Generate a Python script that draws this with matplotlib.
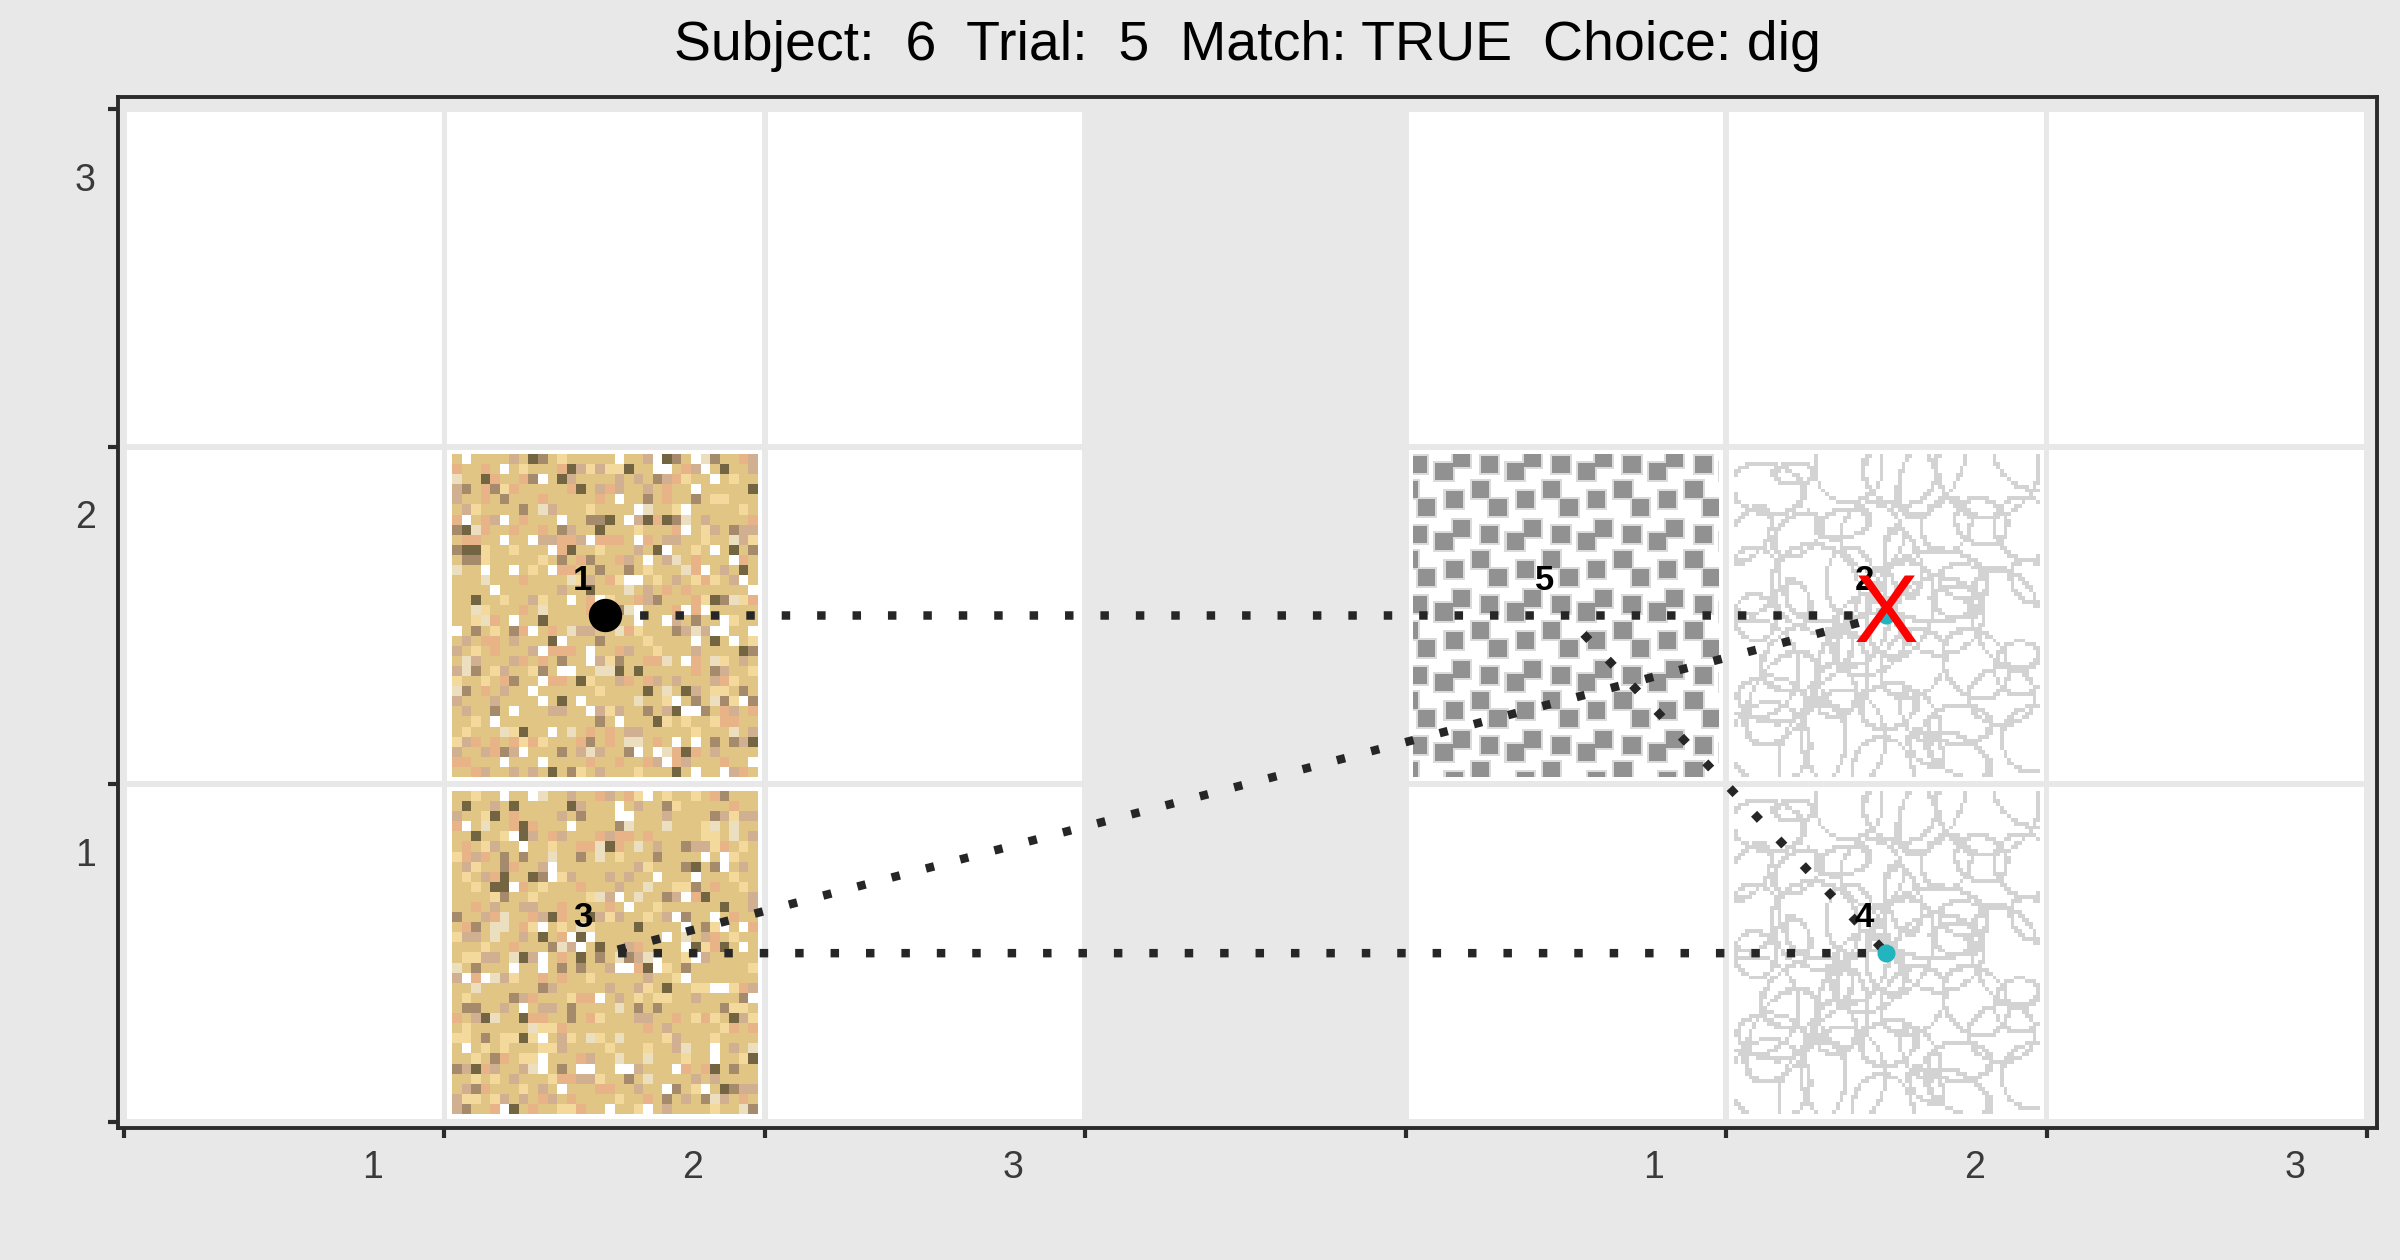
import numpy as np
import matplotlib.pyplot as plt
from matplotlib.patches import Rectangle

plt.rcParams['font.family'] = ['Liberation Sans', 'DejaVu Sans']

# ---- chart data ----
title = "Subject:  6  Trial:  5  Match: TRUE  Choice: dig"
tile_cols = [0, 1, 2, 4, 5, 6]          # left edge of each grid column
tile_rows = [0, 1, 2]                   # bottom edge of each grid row
x_ticks = [0, 1, 2, 3, 4, 5, 6, 7]
y_ticks = [0, 1, 2, 3]
x_label_pos = [0.775, 1.775, 2.775, 4.775, 5.775, 6.775]
x_labels = ["1", "2", "3", "1", "2", "3"]
y_label_pos = [0.8, 1.8, 2.8]
y_labels = ["1", "2", "3"]

# textured cells: (left, bottom, texture)
tex_x = [1, 1, 4, 5, 5]
tex_y = [1, 0, 1, 1, 0]
tex_kind = ["sand", "sand", "checker", "circles", "circles"]

# visiting path
path_x = [1.5, 5.5, 1.5, 5.5, 4.5]
path_y = [1.5, 1.5, 0.5, 0.5, 1.5]
path_lab = ["1", "2", "3", "4", "5"]
cyan_steps = [1, 3]
choice_step = 1

BG = "#e8e8e8"


# ---- texture helpers (decorative fills only) ----
def sand_texture(seed, n=32):
    cols = ["#e0c584", "#f3da9c", "#ebdfc0", "#d1b092", "#e8b386",
            "#a68a6c", "#736542", "#ffffff"]
    prob = [0.52, 0.09, 0.05, 0.09, 0.09, 0.05, 0.035, 0.075]
    prob = np.array(prob) / sum(prob)
    rgb = np.array([[int(c[i:i + 2], 16) / 255 for i in (1, 3, 5)] for c in cols])
    rng = np.random.default_rng(seed)
    idx = rng.choice(len(cols), size=(n, n), p=prob)
    return rgb[idx]


def checker_texture(h=322, w=301):
    img = np.ones((h, w, 3))
    centres = [(7, 15), (32, 22), (49, 9), (15, 58), (42, 50), (68, 40)]
    rr, cc = np.mgrid[0:h, 0:w]
    for cx, cy in centres:
        dx = np.abs(((cc - cx + 37) % 70) - 35)
        dy = np.abs(((rr - cy + 40) % 70) - 35)
        halo = (np.maximum(dx, dy) <= 10) & (img[..., 0] > 0.6)
        img[halo] = np.minimum(img[halo], 0.86)
    for cx, cy in centres:
        dx = np.abs(((cc - cx + 37) % 70) - 35)
        dy = np.abs(((rr - cy + 40) % 70) - 35)
        img[(dx <= 8) & (dy <= 8)] = 0.57
    return img


def circle_texture(seed, n=84):
    img = np.ones((n, n, 3))
    rng = np.random.default_rng(seed)
    yy, xx = np.mgrid[0:n, 0:n] + 0.5
    # spread ellipse centres over a jittered 7x7 lattice
    for gy in range(7):
        for gx in range(7):
            cx = (gx + 0.5) * n / 7 + rng.uniform(-5, 5)
            cy = (gy + 0.5) * n / 7 + rng.uniform(-5, 5)
            a = rng.uniform(5, 15)
            b = a * rng.uniform(0.5, 1.0)
            t = rng.uniform(0, np.pi)
            u = (xx - cx) * np.cos(t) + (yy - cy) * np.sin(t)
            v = -(xx - cx) * np.sin(t) + (yy - cy) * np.cos(t)
            d = np.sqrt((u / a) ** 2 + (v / b) ** 2)
            ring = np.abs(d - 1) * min(a, b) < 0.55
            img[ring] = 0.83
    return img


# ---- figure ----
fig = plt.figure(figsize=(24, 12.6), dpi=100, facecolor=BG)
ax = fig.add_axes([0.04917, 0.10476, 0.94125, 0.81825])
ax.set_facecolor(BG)
ax.set_xlim(-0.0187, 7.0312)
ax.set_ylim(-0.0178, 3.0355)

dx, dy = 0.009, 0.0085
for c in tile_cols:
    for r in tile_rows:
        ax.add_patch(Rectangle((c + dx, r + dy), 1 - 2 * dx, 1 - 2 * dy,
                               facecolor="white", edgecolor="none", zorder=1))

ins = 0.023
for tx, ty, kind in zip(tex_x, tex_y, tex_kind):
    if kind == "sand":
        img = sand_texture(11 + ty)
    elif kind == "checker":
        img = checker_texture()
    else:
        img = circle_texture(5)
    ax.imshow(img, extent=(tx + ins, tx + 1 - ins, ty + ins, ty + 1 - ins),
              interpolation="nearest", aspect="auto", zorder=2)

ax.plot(path_x, path_y, color="#262626", lw=6.1, linestyle=(0, (1, 3.18)),
        dash_capstyle="butt", zorder=3)
ax.plot(path_x[0], path_y[0], "o", color="black", ms=23, zorder=4)
ax.plot([path_x[i] for i in cyan_steps], [path_y[i] for i in cyan_steps], "o",
        color="#22b5bf", ms=13, mec="none", zorder=4)
for px, py, lab in zip(path_x, path_y, path_lab):
    ax.text(px - 0.068, py + 0.105, lab, fontsize=25, fontweight="bold",
            ha="center", va="center", color="black", zorder=5)
ax.text(path_x[choice_step], path_y[choice_step] - 0.005, "X", fontsize=70,
        color="#ff0000", ha="center", va="center", zorder=6)

# axes frame and ticks
for s in ax.spines.values():
    s.set_linewidth(2.8)
    s.set_color("#2b2b2b")
ax.set_xticks(x_ticks)
ax.set_xticklabels([])
ax.set_yticks(y_ticks)
ax.set_yticklabels([])
ax.set_xticks(x_label_pos, minor=True)
ax.set_xticklabels(x_labels, minor=True)
ax.set_yticks(y_label_pos, minor=True)
ax.set_yticklabels(y_labels, minor=True)
ax.tick_params(which="major", length=7.5, width=3, color="#2b2b2b")
ax.tick_params(which="minor", length=0, labelsize=27, labelcolor="#3a3a3a")
ax.tick_params(axis="x", which="minor", pad=16)
ax.tick_params(axis="y", which="minor", pad=16)

fig.text(1247.5 / 2400, 1 - 46 / 1260, title, fontsize=40, ha="center",
         va="center", color="black")

fig.savefig("out.png", dpi=100, facecolor=BG)
